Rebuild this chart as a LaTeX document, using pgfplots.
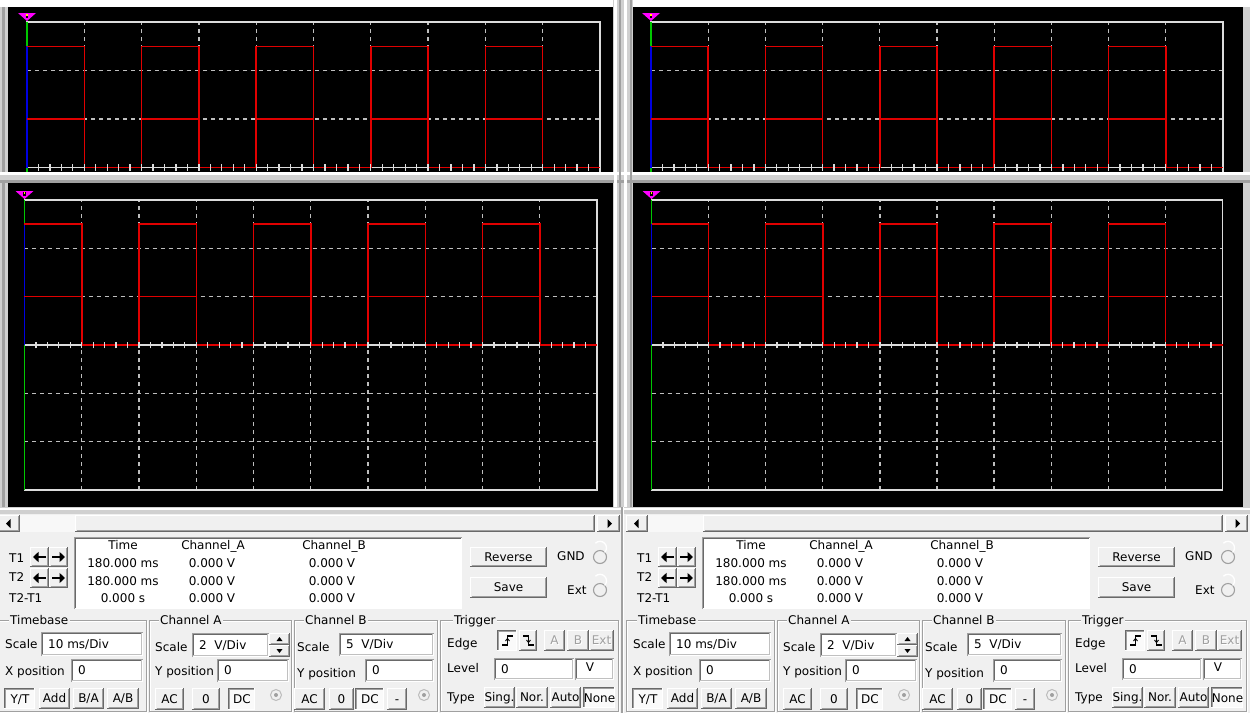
\documentclass[border=0pt]{standalone}
\usepackage{fontspec}
\setmainfont{DejaVu Sans}
\usepackage{pgfplots}
\usepackage{pgfplotstable}
\pgfplotsset{compat=1.18}
\usetikzlibrary{arrows.meta}

\definecolor{guibg}{HTML}{F0F0F0}
\definecolor{gdark}{HTML}{A0A0A0}
\definecolor{gdarker}{HTML}{696969}
\definecolor{gridc}{HTML}{BEBEBE}
\definecolor{brd}{HTML}{DCDCDC}
\definecolor{trace}{HTML}{E00000}
\definecolor{cursorg}{HTML}{00C800}
\definecolor{traceb}{HTML}{0000E0}
\definecolor{trig}{HTML}{FF00FF}
\definecolor{bev}{HTML}{D0D0D0}

% Channel A and Channel B: the same 5 V square wave, 20 ms period (time in ms, voltage in V)
\pgfplotstableread{
t V
0 5
10 0
20 5
30 0
40 5
50 0
60 5
70 0
80 5
90 0
100 0
}\chA
\pgfplotstableread{
t V
0 5
10 0
20 5
30 0
40 5
50 0
60 5
70 0
80 5
90 0
100 0
}\chB

\newcommand\gf{\fontsize{12}{14}\selectfont}

\pgfplotsset{scr/.style={scale only axis, xmin=0, xmax=100, ymin=-3, ymax=3,
  axis background/.style={fill=black},
  axis line style={draw=brd, line width=1.3pt},
  xtick={10,20,...,90}, ytick={-2,-1,1,2},
  extra y ticks={0}, extra y tick labels={},
  extra y tick style={major grid style={solid, draw=brd, line width=1.6pt}},
  xticklabels={}, yticklabels={}, major tick length=0pt,
  grid=major, grid style={draw=gridc, line width=1.3pt, dash pattern=on 4pt off 4pt},
  clip=false}}

\newcommand\screen[4]{%
\begin{axis}[scr, at={(#1pt,-#2pt)}, anchor=north west, width=#3pt, height=#4pt]
\addplot[cursorg, line width=1.6pt] coordinates {(0,-3) (0,3)};
% Channel A: 2 V/Div, Channel B: 5 V/Div
\addplot[traceb, line width=1.6pt, y filter/.expression={y/2}] coordinates {(0,0) (0,5)};
\addplot[trace, line width=1.5pt, const plot, y filter/.expression={y/2}] table[x=t, y=V] {\chA};
\addplot[trace, line width=1.5pt, const plot, y filter/.expression={y/5}] table[x=t, y=V] {\chB};
\pgfplotsinvokeforeach{2,4,...,98}{\draw[brd, line width=1.3pt] (axis cs:##1,-0.07) -- (axis cs:##1,0.07);}
\end{axis}}

\newcommand\trigmark[2]{% x of tip, y of tip
  \fill[trig] (#1-9,#2-8) -- (#1+9,#2-8) -- (#1,#2) -- cycle;
  \fill[black] (#1-1.2,#2-7.5) rectangle (#1+1.2,#2-3);
  \fill[yellow] (#1-0.6,#2-7) rectangle (#1+0.6,#2-5.5);
}

% raised button
\newcommand\btn[5]{%
  \fill[guibg] (#1,#2) rectangle (#3,#4);
  \draw[white] (#1+0.5,#4-1) -- (#1+0.5,#2+0.5) -- (#3-1,#2+0.5);
  \draw[gdarker] (#1,#4-0.5) -- (#3-0.5,#4-0.5) -- (#3-0.5,#2);
  \draw[gdark] (#1+1.5,#4-1.5) -- (#3-1.5,#4-1.5) -- (#3-1.5,#2+1);
  \node[font=\gf, anchor=base, inner sep=0pt] at ({(#1+#3)/2},{(#2+#4)/2+4.4}) {#5};
}
% sunken (pressed) button
\newcommand\sbtn[5]{%
  \fill[white!70!guibg] (#1,#2) rectangle (#3,#4);
  \draw[gdarker] (#1+0.5,#4) -- (#1+0.5,#2+0.5) -- (#3,#2+0.5);
  \draw[gdark] (#1+1.5,#4-1) -- (#1+1.5,#2+1.5) -- (#3-1,#2+1.5);
  \draw[white] (#1,#4-0.5) -- (#3-0.5,#4-0.5) -- (#3-0.5,#2);
  \node[font=\gf, anchor=base, inner sep=0pt] at ({(#1+#3)/2+0.5},{(#2+#4)/2+4.9}) {#5};
}
% disabled button
\newcommand\dbtn[5]{%
  \fill[guibg] (#1,#2) rectangle (#3,#4);
  \draw[white] (#1+0.5,#4-1) -- (#1+0.5,#2+0.5) -- (#3-1,#2+0.5);
  \draw[gdarker] (#1,#4-0.5) -- (#3-0.5,#4-0.5) -- (#3-0.5,#2);
  \draw[gdark] (#1+1.5,#4-1.5) -- (#3-1.5,#4-1.5) -- (#3-1.5,#2+1);
  \node[font=\gf, anchor=base, inner sep=0pt, white] at ({(#1+#3)/2+1},{(#2+#4)/2+5.4}) {#5};
  \node[font=\gf, anchor=base, inner sep=0pt, gdark] at ({(#1+#3)/2},{(#2+#4)/2+4.4}) {#5};
}
% text field
\newcommand\field[5]{%
  \fill[white] (#1,#2) rectangle (#3,#4);
  \draw[gdark] (#1+0.5,#4) -- (#1+0.5,#2+0.5) -- (#3,#2+0.5);
  \draw[gdarker] (#1+1.5,#4-1) -- (#1+1.5,#2+1.5) -- (#3-1,#2+1.5);
  \draw[guibg!80!black] (#1+1,#4-1.5) -- (#3-1.5,#4-1.5) -- (#3-1.5,#2+1);
  \node[font=\gf, anchor=base west, inner sep=0pt] at (#1+7,{(#2+#4)/2+4.4}) {#5};
}
% group box
\newcommand\gbox[6]{%
  \draw[white] (#1+1,#2+1) rectangle (#3+1,#4+1);
  \draw[gdark] (#1,#2) rectangle (#3,#4);
  \node[font=\gf, fill=guibg, anchor=base west, inner xsep=1.5pt, inner ysep=1pt] at (#5-1.5,#2+4.4) {#6};
}
\newcommand\tl[3]{\node[font=\gf, anchor=base west, inner sep=0pt] at (#1,#2+4.4) {#3};}
\newcommand\tc[3]{\node[font=\gf, anchor=base, inner sep=0pt] at (#1,#2+4.4) {#3};}
\newcommand\radio[2]{%
  \fill[guibg] (#1,#2) circle (6.5);
  \draw[gdark, line width=1.1pt] (#1,#2) circle (6.5);
  \draw[white, line width=1.3pt] (#1+4.6,#2-4.6) arc[start angle=45, end angle=-135, radius=6.5];
}
\newcommand\radiodot[2]{%
  \draw[gdark!70!white, line width=1pt] (#1,#2) circle (5.5);
  \fill[gdark] (#1,#2) circle (2);
}
\newcommand\arrowbtn[2]{% x, y top
  \btn{#1}{#2}{#1+19}{#2+20}{}
  \btn{#1+19}{#2}{#1+38}{#2+20}{}
  \draw[line width=2.6pt, -{Triangle[length=5.5pt, width=10pt]}] (#1+16,#2+10) -- (#1+3,#2+10);
  \draw[line width=2.6pt, -{Triangle[length=5.5pt, width=10pt]}] (#1+22,#2+10) -- (#1+35,#2+10);
}

\newcommand\panel{%
  % scrollbar
  \fill[white!55!guibg] (20,515) rectangle (597,532);
  \btn{-2}{515}{20}{532}{}
  \fill[black] (6,523.5) -- (10.5,519) -- (10.5,528) -- cycle;
  \btn{75}{515}{595}{532}{}
  \btn{597}{515}{620}{532}{}
  \fill[black] (612,523.5) -- (607.5,519) -- (607.5,528) -- cycle;
  % cursors
  \tl{9}{558}{T1}
  \tl{9}{577}{T2}
  \tl{9}{598}{T2-T1}
  \arrowbtn{30}{547}
  \arrowbtn{30}{568}
  % readout box
  \fill[white] (74,537) rectangle (462,609);
  \draw[gdark] (74.5,609) -- (74.5,537.5) -- (462,537.5);
  \draw[gdarker] (75.5,608) -- (75.5,538.5) -- (461,538.5);
  \tc{123}{545}{Time}
  \tc{213}{545}{Channel\_A}
  \tc{334}{545}{Channel\_B}
  \tc{123}{563}{180.000 ms}
  \tc{212}{563}{0.000 V}
  \tc{332}{563}{0.000 V}
  \tc{123}{581}{180.000 ms}
  \tc{212}{581}{0.000 V}
  \tc{332}{581}{0.000 V}
  \tc{123}{598}{0.000 s}
  \tc{212}{598}{0.000 V}
  \tc{332}{598}{0.000 V}
  % reverse / save
  \btn{470}{547}{547}{567}{Reverse}
  \btn{470}{577}{547}{598}{Save}
  \tl{557}{556}{GND}
  \radio{600}{557}
  \tl{567}{590}{Ext}
  \radio{600}{590}
  % group boxes
  \gbox{-2}{620}{146}{711}{10}{Timebase}
  \gbox{149}{620}{291}{711}{160}{Channel A}
  \gbox{294}{620}{437}{711}{305}{Channel B}
  \gbox{440}{620}{618}{711}{454}{Trigger}
  % timebase
  \tl{5}{644}{Scale}
  \field{41}{632}{143}{656}{10 ms/Div}
  \tl{5}{671}{X position}
  \field{71}{659}{143}{682}{0}
  \sbtn{4}{688}{35}{709}{Y/T}
  \btn{39}{688}{70}{709}{Add}
  \btn{73}{688}{104}{709}{B/A}
  \btn{107}{688}{139}{709}{A/B}
  % channel A
  \tl{155}{647}{Scale}
  \field{192}{633}{269}{657}{2\ \ V/Div}
  \btn{269}{633}{290}{645}{}
  \btn{269}{645}{290}{657}{}
  \fill[black] (279.5,637) -- (276.5,641) -- (282.5,641) -- cycle;
  \fill[black] (276.5,649) -- (282.5,649) -- (279.5,653) -- cycle;
  \tl{155}{671}{Y position}
  \field{217}{659}{289}{682}{0}
  \btn{155}{688}{184}{710}{AC}
  \btn{192}{688}{220}{710}{0}
  \sbtn{228}{688}{255}{710}{DC}
  \radiodot{276}{695}
  % channel B
  \tl{297}{647}{Scale}
  \field{339}{633}{434}{656}{5\ \ V/Div}
  \tl{297}{673}{Y position}
  \field{365}{659}{434}{682}{0}
  \btn{294}{688}{325}{710}{AC}
  \btn{329}{688}{354}{710}{0}
  \sbtn{355}{688}{384}{710}{DC}
  \btn{387}{688}{407}{710}{-}
  \radiodot{424}{695}
  % trigger
  \tl{447}{643}{Edge}
  \sbtn{497}{630}{517}{651}{}
  \btn{519}{630}{537}{651}{}
  \draw[line width=1.2pt] (502,645) -- (507.5,645) -- (507.5,636) -- (513,636);
  \draw[line width=0.9pt] (505.5,641) -- (507.5,638.5) -- (509.5,641);
  \draw[line width=1.2pt] (523,636) -- (528.5,636) -- (528.5,645) -- (534,645);
  \draw[line width=0.9pt] (526.5,640) -- (528.5,642.5) -- (530.5,640);
  \dbtn{544}{630}{565}{651}{A}
  \dbtn{567}{630}{589}{651}{B}
  \dbtn{589}{630}{614}{651}{Ext}
  \tl{447}{668}{Level}
  \field{494}{658}{574}{680}{0}
  \field{575}{658}{614}{680}{}
  \tc{590}{667}{V}
  \tl{447}{697}{Type}
  \btn{484}{687}{515}{708}{Sing.}
  \btn{516}{687}{548}{708}{Nor.}
  \btn{550}{687}{581}{708}{Auto}
  \sbtn{583}{687}{615}{708}{None}
}

\begin{document}
\begin{tikzpicture}[x=1pt, y=-1pt]
\useasboundingbox (0,0) rectangle (1250,713);
\fill[guibg] (0,0) rectangle (1250,713);
% top band and frames
\fill[white] (0,0) rectangle (1250,7);
\fill[bev] (0,7) rectangle (8,510);
\fill[gdark] (2,7) rectangle (4.5,510);
\fill[bev] (1243,7) rectangle (1250,510);
\fill[bev] (613,0) rectangle (633,510);
\fill[white] (614,0) rectangle (617,510);
\fill[gdark] (619,0) rectangle (621,510);
\fill[white] (624,0) rectangle (627,510);
\fill[gdark] (630,0) rectangle (632,510);
% top (background) scope screens
\fill[black] (8,7) rectangle (613,172);
\fill[black] (633,7) rectangle (1243,172);
\screen{27}{22}{573}{291}
\screen{651}{22}{572}{291}
\trigmark{27}{21}
\trigmark{651}{21}
% bevel between the two windows
\fill[bev] (0,172) rectangle (1250,183);
\fill[white] (0,172) rectangle (1250,175);
\fill[gdark] (0,180) rectangle (1250,183);
\fill[bev] (613,183) rectangle (633,510);
\fill[white] (614,172) rectangle (617,510);
\fill[gdark] (619,172) rectangle (621,510);
\fill[white] (624,172) rectangle (627,510);
\fill[gdark] (630,172) rectangle (632,510);
% lower (front) scope screens
\fill[black] (8,183) rectangle (613,507);
\fill[black] (633,183) rectangle (1243,507);
\screen{24.5}{200}{572.5}{290}
\screen{651.5}{200}{571}{290}
\trigmark{24.5}{199}
\trigmark{651.5}{199}
% bottom of the windows
\fill[bev] (0,507) rectangle (1250,514);
\fill[white] (0,508) rectangle (1250,510);
% control panels
\panel
\begin{scope}[xshift=628pt]
\panel
\end{scope}
\draw[gdark, line width=1.2pt] (622,507) -- (622,713);
\draw[white, line width=1pt] (623.5,507) -- (623.5,713);
\end{tikzpicture}
\end{document}
